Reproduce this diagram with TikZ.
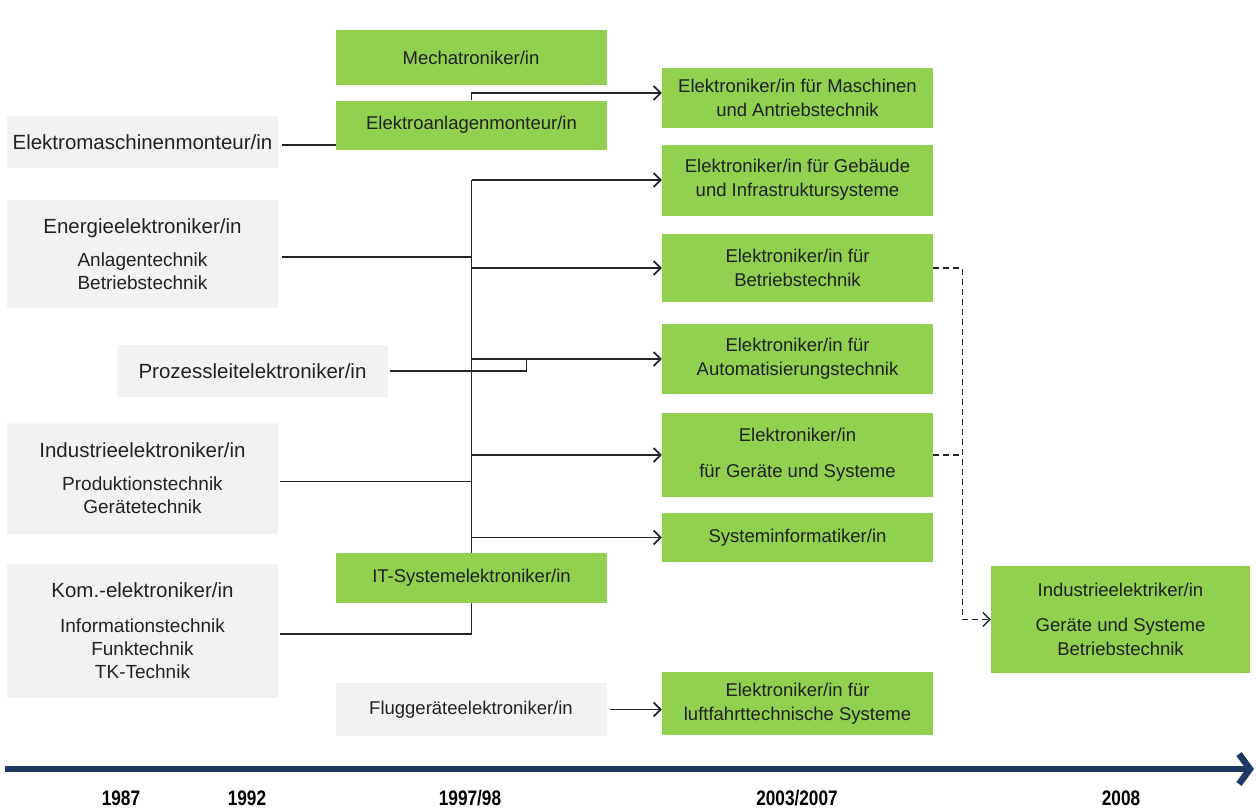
\documentclass[tikz,border=0pt]{standalone}
\usepackage{fontspec}
\setmainfont{Liberation Sans}
\newfontfamily\jahrfont{Liberation Sans}[FakeStretch=0.82]
\usetikzlibrary{arrows.meta}
\definecolor{gruen}{HTML}{92D050}
\definecolor{grau}{HTML}{F2F2F2}
\definecolor{achsenblau}{HTML}{1F3864}
\definecolor{schrift}{HTML}{222222}
\newcommand{\titel}{\fontsize{20.5}{23}\selectfont}
\tikzset{
  box/.style={minimum width=271pt, inner sep=0pt, align=center, text=schrift},
  neu/.style={box, fill=gruen, font=\fontsize{18.5}{24}\selectfont},
  alt/.style={box, fill=grau, font=\fontsize{19}{23}\selectfont},
  linie/.style={line width=1.7pt, draw=black!85},
  pfeil/.style={-{Straight Barb[length=7pt,width=14pt]}},
  strich/.style={dash pattern=on 6pt off 4pt, line width=1.4pt},
  zeitachse/.style={line width=6.5pt, draw=achsenblau, -{Straight Barb[length=11pt,width=30pt]}},
  jahr/.style={font=\jahrfont\bfseries\fontsize{21}{22}\selectfont, text=black}
}
\begin{document}
\begin{tikzpicture}[x=1pt,y=-1pt]
\useasboundingbox (0,0) rectangle (1256,809);
% Drawing old occupations
\node[alt, minimum height=52pt] (emasch) at (142.5,142) {\titel Elektromaschinenmonteur/in};
\node[alt, minimum height=108pt] (energie) at (142.5,254) {{\titel Energieelektroniker/in}\\[10pt]Anlagentechnik\\Betriebstechnik};
\node[alt, minimum height=52pt] (prozess) at (252.5,371) {\titel Prozessleitelektroniker/in};
\node[alt, minimum height=111pt] (industrie) at (142.5,478.5) {{\titel Industrieelektroniker/in}\\[10pt]Produktionstechnik\\Gerätetechnik};
\node[alt, minimum height=134pt] (kom) at (142.5,631) {{\titel Kom.-elektroniker/in}\\[12pt]Informationstechnik\\Funktechnik\\TK-Technik};
\node[alt, minimum height=53pt, font=\fontsize{18.5}{24}\selectfont] (flug) at (471,709.5) {Fluggeräteelektroniker/in};
% Drawing new occupations
\node[neu, minimum height=55pt] (mech) at (471,57.5) {Mechatroniker/in};
\node[neu, minimum height=49pt] (anlagen) at (471.5,125) {Elektroanlagenmonteur/in};
\node[neu, minimum height=50pt] (it) at (471.5,578) {IT-Systemelektroniker/in};
\node[neu, minimum height=60pt] (masch) at (797.5,98) {Elektroniker/in für Maschinen\\und Antriebstechnik};
\node[neu, minimum height=71pt] (geb) at (797.5,180) {Elektroniker/in für Gebäude\\und Infrastruktursysteme};
\node[neu, minimum height=68pt] (betr) at (797.5,268) {Elektroniker/in für\\Betriebstechnik};
\node[neu, minimum height=70pt] (auto) at (797.5,359) {Elektroniker/in für\\Automatisierungstechnik};
\node[neu, minimum height=84pt] (ger) at (797.5,455) {Elektroniker/in\\[12pt]für Geräte und Systeme};
\node[neu, minimum height=49pt] (sysinf) at (797.5,537.5) {Systeminformatiker/in};
\node[neu, minimum height=63pt] (luft) at (797.5,703.5) {Elektroniker/in für\\luftfahrttechnische Systeme};
\node[neu, minimum width=259pt, minimum height=107pt] (indel) at (1120.5,619.5) {Industrieelektriker/in\\[11pt]Geräte und Systeme\\Betriebstechnik};
% Drawing connections
\draw[linie, shorten <=4pt] (emasch.east) ++(0,3) -- (anlagen.west |- 0,145);
\draw[linie, pfeil] (anlagen.north) |- ([yshift=5pt]masch.west);
\draw[linie] (it.north) -- (it.north |- geb.west);
\foreach \ziel in {geb,betr,auto,ger,sysinf}
  \draw[linie, pfeil] (it.north |- \ziel.west) -- (\ziel.west);
\draw[linie, shorten <=4pt] (energie.east) ++(0,3) -- (it.north |- 0,257);
\draw[linie, shorten <=2pt] (prozess.east) -| ([xshift=55pt]auto.west -| it.north);
\draw[linie, shorten <=2pt] (industrie.east) ++(0,3) -| (it.north |- ger.west);
\draw[linie, shorten <=2pt] (kom.east) ++(0,3) -| (it.south);
\draw[linie, pfeil, shorten <=3pt] (flug.east) -- (flug.east -| luft.west);
% Dashed transfer to 2008
\draw[linie, strich, pfeil] (betr.east) -- ([xshift=29pt]betr.east) |- (indel.west);
\draw[linie, strich] (ger.east) -- ([xshift=29pt]ger.east);
% Drawing time axis
\coordinate (anfang) at (5,769);
\coordinate (ende) at (1254,769);
\draw[zeitachse] (anfang) -- (ende);
\node[jahr] (j1987) at (121,798) {1987};
\node[jahr] (j1992) at (247,798) {1992};
\node[jahr] (j1997) at (470,798) {1997/98};
\node[jahr] (j2003) at (797,798) {2003/2007};
\node[jahr] (j2008) at (1121,798) {2008};
\end{tikzpicture}
\end{document}
